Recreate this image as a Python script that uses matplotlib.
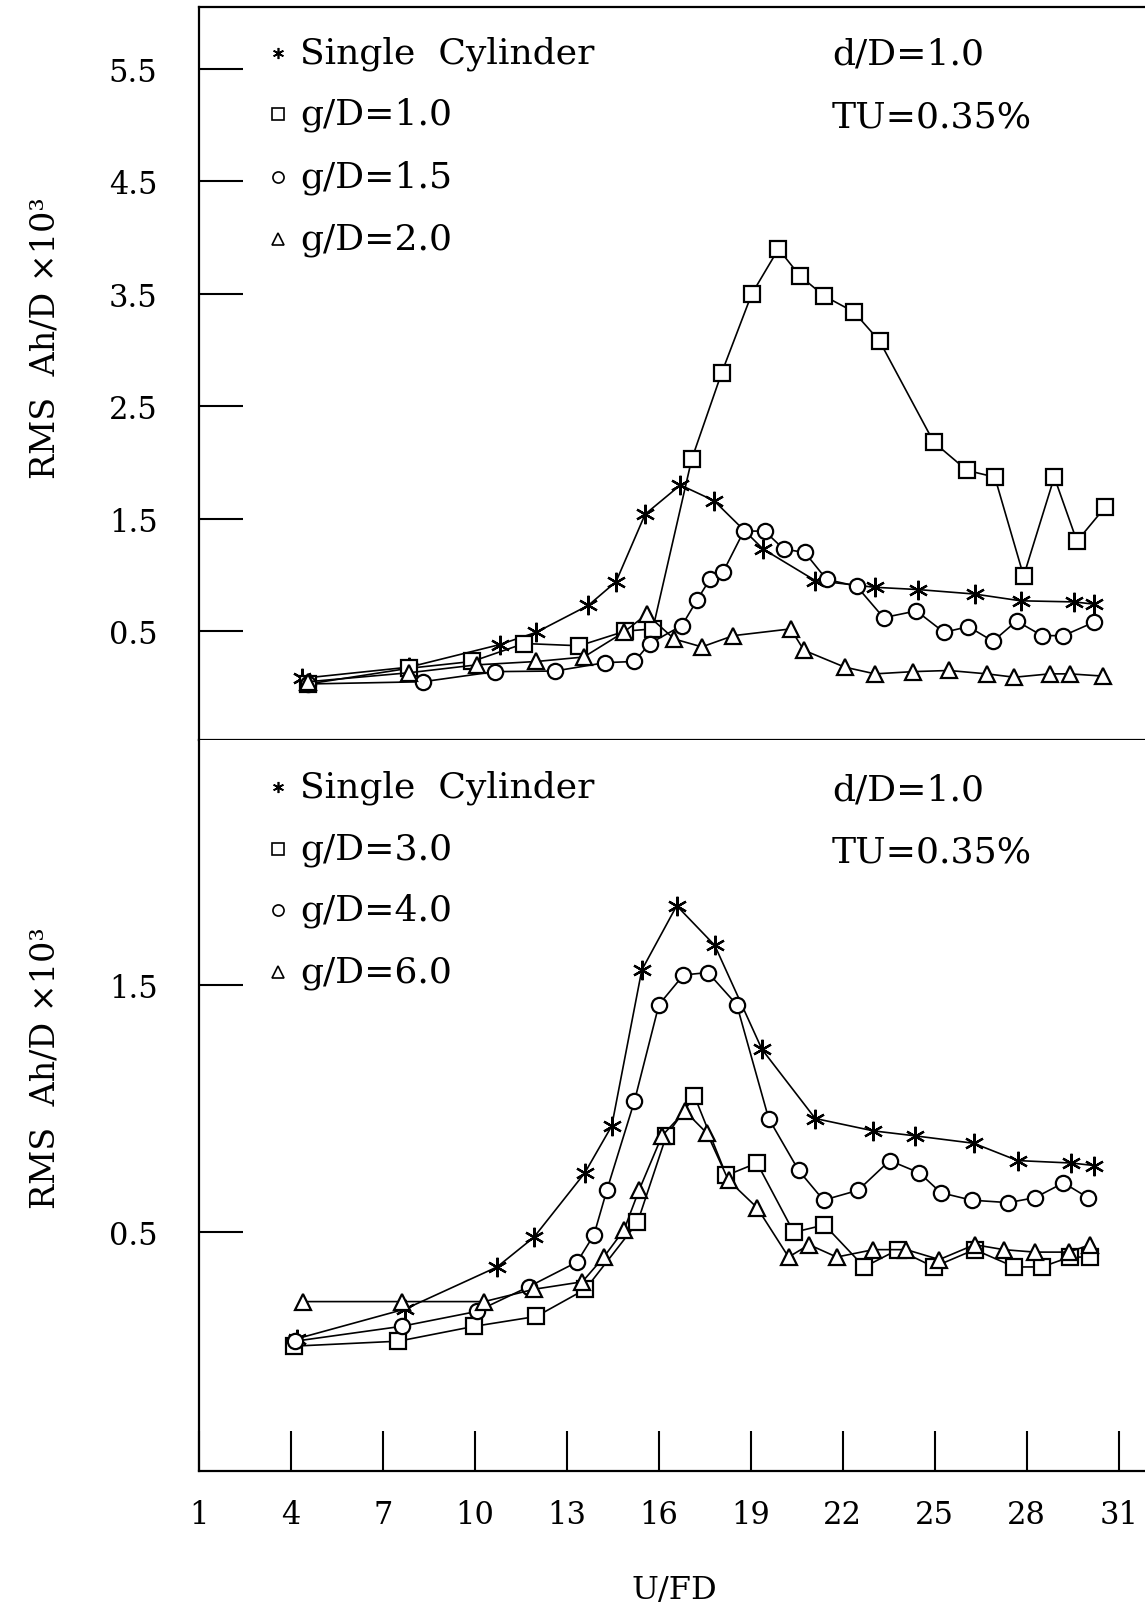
import matplotlib
matplotlib.use('Agg')
import matplotlib.pyplot as plt

plt.rcParams['font.family'] = ['DejaVu Serif']
plt.rcParams['mathtext.fontset'] = 'dejavuserif'

# ---- data: upper panel (d/D=1.0, g/D = 1.0 / 1.5 / 2.0) ----
single_up_x = [4.35, 7.85, 10.8, 12.0, 13.7, 14.6, 15.55, 16.7, 17.8, 19.4, 21.1,
               23.05, 24.45, 26.3, 27.8, 29.55, 30.2]
single_up_y = [0.08, 0.18, 0.38, 0.49, 0.73, 0.94, 1.54, 1.80, 1.66, 1.23, 0.95,
               0.89, 0.87, 0.83, 0.77, 0.76, 0.74]

g10_x = [4.55, 7.85, 9.9, 11.6, 13.4, 14.9, 15.8, 17.07, 18.05, 19.03, 19.9, 20.6,
         21.4, 22.36, 23.2, 24.97, 26.05, 26.96, 27.9, 28.9, 29.64, 30.55]
g10_y = [0.03, 0.17, 0.23, 0.39, 0.37, 0.50, 0.52, 2.03, 2.80, 3.50, 3.90, 3.66,
         3.48, 3.34, 3.08, 2.18, 1.93, 1.87, 0.99, 1.87, 1.30, 1.60]

g15_x = [4.55, 8.3, 10.66, 12.6, 14.25, 15.2, 15.7, 16.75, 17.25, 17.66, 18.1, 18.77,
         19.45, 20.07, 20.76, 21.47, 22.45, 23.33, 24.4, 25.3, 26.1, 26.9, 27.67,
         28.5, 29.2, 30.2]
g15_y = [0.03, 0.05, 0.14, 0.145, 0.22, 0.23, 0.39, 0.55, 0.78, 0.96, 1.03, 1.39,
         1.39, 1.23, 1.20, 0.96, 0.90, 0.62, 0.68, 0.49, 0.54, 0.41, 0.59,
         0.46, 0.46, 0.58]

g20_x = [4.55, 7.85, 10.05, 12.0, 13.55, 14.85, 15.6, 16.5, 17.4, 18.43, 20.3, 20.73,
         22.06, 23.05, 24.3, 25.46, 26.7, 27.6, 28.75, 29.4, 30.5]
g20_y = [0.05, 0.13, 0.20, 0.23, 0.27, 0.49, 0.65, 0.43, 0.36, 0.46, 0.52, 0.33,
         0.18, 0.12, 0.14, 0.15, 0.12, 0.09, 0.12, 0.12, 0.10]

# ---- data: lower panel (g/D = 3.0 / 4.0 / 6.0) ----
single_lo_x = [4.19, 7.72, 10.72, 11.92, 13.58, 14.46, 15.44, 16.58, 17.82, 19.36,
               21.1, 23.0, 24.35, 26.27, 27.7, 29.46, 30.2]
single_lo_y = [0.07, 0.19, 0.36, 0.48, 0.74, 0.93, 1.56, 1.82, 1.66, 1.24,
               0.96, 0.91, 0.89, 0.86, 0.79, 0.78, 0.77]

g30_x = [4.1, 7.5, 9.97, 12.0, 13.6, 15.3, 16.24, 17.16, 18.2, 19.2, 20.4, 21.4,
         22.7, 23.8, 24.97, 26.3, 27.6, 28.5, 29.4, 30.07]
g30_y = [0.04, 0.06, 0.12, 0.16, 0.27, 0.54, 0.89, 1.05, 0.73, 0.78, 0.50, 0.53,
         0.36, 0.43, 0.36, 0.43, 0.36, 0.36, 0.40, 0.40]

g40_x = [4.13, 7.6, 10.05, 11.75, 13.33, 13.88, 14.3, 15.2, 16.0, 16.8, 17.6, 18.54,
         19.58, 20.56, 21.37, 22.5, 23.53, 24.5, 25.2, 26.2, 27.4, 28.27, 29.2, 30.0]
g40_y = [0.06, 0.12, 0.18, 0.28, 0.38, 0.49, 0.67, 1.03, 1.42, 1.54, 1.55, 1.42,
         0.96, 0.75, 0.63, 0.67, 0.79, 0.74, 0.66, 0.63, 0.62, 0.64, 0.70, 0.64]

g60_x = [4.4, 7.6, 10.3, 11.93, 13.5, 14.2, 14.86, 15.35, 16.1, 16.85, 17.57, 18.27,
         19.2, 20.23, 20.9, 21.8, 23.0, 24.07, 25.15, 26.3, 27.25, 28.26, 29.37, 30.07]
g60_y = [0.22, 0.22, 0.22, 0.27, 0.30, 0.40, 0.51, 0.67, 0.89, 0.99, 0.90, 0.71,
         0.60, 0.40, 0.45, 0.40, 0.43, 0.43, 0.39, 0.45, 0.43, 0.42, 0.42, 0.45]

x_ticks = [1, 4, 7, 10, 13, 16, 19, 22, 25, 28, 31]
x_ticklabels = ['1', '4', '7', '10', '13', '16', '19', '22', '25', '28', '31']
y_ticks_up = [0.5, 1.5, 2.5, 3.5, 4.5, 5.5]
y_ticks_lo = [0.5, 1.5]

legend_up = ['Single  Cylinder', 'g/D=1.0', 'g/D=1.5', 'g/D=2.0']
legend_lo = ['Single  Cylinder', 'g/D=3.0', 'g/D=4.0', 'g/D=6.0']

ASTER = (6, 2, 0)
markers = [ASTER, 's', 'o', '^']
msizes = [14, 12, 11, 11]

fig = plt.figure(figsize=(11.45, 16.15), dpi=100)
ax_up = fig.add_axes([0.174, 0.5412, 0.826, 0.4537])
ax_lo = fig.add_axes([0.174, 0.0885, 0.826, 0.4527])


def draw(ax, series):
    for (xs, ys), m, ms in zip(series, markers, msizes):
        ax.plot(xs, ys, color='black', lw=1.2, marker=m, ms=ms,
                mfc='white' if m != ASTER else 'black', mec='black', mew=1.6,
                clip_on=False)


draw(ax_up, [(single_up_x, single_up_y), (g10_x, g10_y), (g15_x, g15_y), (g20_x, g20_y)])
draw(ax_lo, [(single_lo_x, single_lo_y), (g30_x, g30_y), (g40_x, g40_y), (g60_x, g60_y)])

for ax in (ax_up, ax_lo):
    ax.set_xlim(1, 31.86)
    ax.spines['right'].set_visible(False)
    for s in ax.spines.values():
        s.set_linewidth(1.6)
    ax.tick_params(axis='y', direction='in', length=32, width=1.5, pad=30,
                   labelsize=22)

ax_up.set_ylim(-0.468, 6.05)
ax_lo.set_ylim(-0.465, 2.49)
ax_lo.spines['top'].set_visible(False)

ax_up.set_yticks(y_ticks_up)
ax_up.set_yticklabels([f'{v:.1f}' for v in y_ticks_up])
ax_lo.set_yticks(y_ticks_lo)
ax_lo.set_yticklabels([f'{v:.1f}' for v in y_ticks_lo])

ax_up.set_xticks([])
ax_lo.set_xticks(x_ticks)
ax_lo.set_xticklabels(x_ticklabels)
ax_lo.tick_params(axis='x', direction='in', length=29, width=1.5, pad=20,
                  labelsize=22)

# legends drawn by hand (small symbol + text)
for ax, labels, rows in ((ax_up, legend_up, [54, 115, 178, 240]),
                         (ax_lo, legend_lo, [788, 850, 911, 973])):
    for lab, m, row in zip(labels, markers, rows):
        fy = 1 - row / 1615
        fig.lines.append(plt.Line2D([278 / 1145], [fy], transform=fig.transFigure,
                                    marker=m, ms=8, mfc='white' if m != ASTER else 'black',
                                    mec='black', mew=1.2, ls='none'))
        fig.text(300 / 1145, fy, lab, fontsize=26, va='center', ha='left')

for row_d, row_t in ((54, 118), (791, 853)):
    fig.text(832 / 1145, 1 - row_d / 1615, 'd/D=1.0', fontsize=26, va='center')
    fig.text(832 / 1145, 1 - row_t / 1615, 'TU=0.35%', fontsize=26, va='center')

fig.text(0.040, 1 - 338 / 1615, 'RMS  Ah/D ×10³', rotation=90, fontsize=24,
         va='center', ha='center')
fig.text(0.040, 1 - 1068 / 1615, 'RMS  Ah/D ×10³', rotation=90, fontsize=24,
         va='center', ha='center')
fig.text(674 / 1145, 1 - 1591 / 1615, 'U/FD', fontsize=23, va='center', ha='center')

fig.savefig('out.png', dpi=100)
